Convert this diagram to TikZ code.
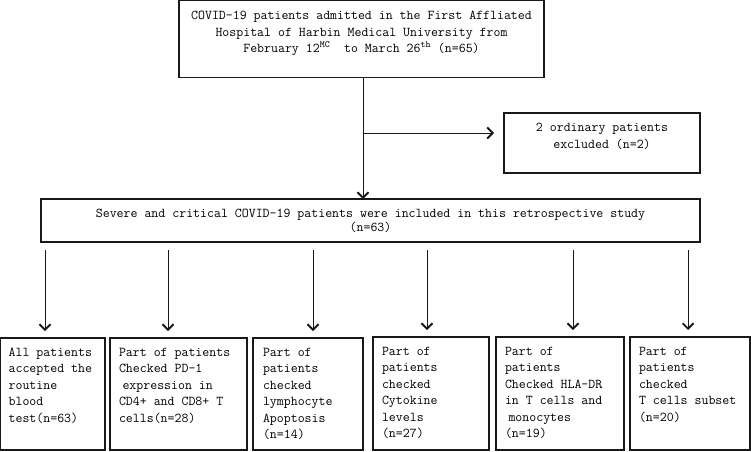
\documentclass[tikz,border=0pt]{standalone}
\usetikzlibrary{arrows.meta}
\begin{document}
\begin{tikzpicture}[x=1pt,y=-1pt,
  box/.style={draw=black!90, line width=1.2pt, inner sep=0pt, outer sep=0pt, anchor=north west},
  arr/.style={draw=black!90, line width=0.9pt, -{Straight Barb[length=5.5pt,width=11pt,line width=1.8pt]}},
  dn/.style={arr, shorten <=8pt, shorten >=7pt},
  font=\ttfamily\fontsize{13.5}{16.5}\selectfont]
\useasboundingbox (0,0) rectangle (751,451);
% top box
\node[box] (top) at (179,0.6) {\parbox[c][77pt][t]{365pt}{\centering\vspace*{7.5pt}\strut COVID-19 patients admitted in the First Affliated\\Hospital of Harbin Medical University from\\February 12\textsuperscript{MC}\ \ to March 26\textsuperscript{th} (n=65)}};
% excluded
\node[box] (exc) at (504,113) {\parbox[c][60pt][t]{196pt}{\centering\vspace*{7pt}\strut 2 ordinary patients\\excluded (n=2)}};
% middle
\node[box] (mid) at (41,199) {\parbox[c][43pt][t]{659pt}{\centering\fontsize{13.5}{14}\selectfont\vspace*{8.5pt}\strut Severe and critical COVID-19 patients were included in this retrospective study\\(n=63)}};
% bottom boxes
\node[box] (b1) at (0.6,338) {\parbox[c][112pt][t]{104.4pt}{\raggedright\leftskip=8pt\vspace*{6.5pt}\strut All patients\\accepted the\\routine\\blood\\test(n=63)}};
\node[box] (b2) at (110,338) {\parbox[c][112pt][t]{137pt}{\raggedright\leftskip=9pt\vspace*{6.5pt}\strut Part of patients\\Checked PD-1\\\hspace*{3.5pt}expression in\\CD4+ and CD8+ T\\cells(n=28)}};
\node[box] (b3) at (253,338) {\parbox[c][112pt][t]{110pt}{\raggedright\leftskip=10pt\vspace*{6.5pt}\strut Part of\\patients\\checked\\lymphocyte\\Apoptosis\\(n=14)}};
\node[box] (b4) at (373,337) {\parbox[c][113pt][t]{116pt}{\raggedright\leftskip=9pt\vspace*{6.5pt}\strut Part of\\patients\\checked\\Cytokine\\levels\\(n=27)}};
\node[box] (b5) at (496,337) {\parbox[c][113pt][t]{128pt}{\raggedright\leftskip=9pt\vspace*{6.5pt}\strut Part of\\patients\\Checked HLA-DR\\in T cells and\\\hspace*{3.5pt}monocytes\\(n=19)}};
\node[box] (b6) at (630,337) {\parbox[c][113pt][t]{120pt}{\raggedright\leftskip=9pt\vspace*{6.5pt}\strut Part of\\patients\\checked\\T cells subset\\(n=20)}};
% connectors
\coordinate (j) at (363,133);
\draw[draw=black!90, line width=0.9pt] (top.south -| j) -- (j);
\draw[arr] (j) -- (mid.north -| j);
\draw[arr] (j) -- ([xshift=-10pt]exc.west |- j);
\coordinate (a1) at (45,0);
\coordinate (a2) at (168,0);
\coordinate (a3) at (313,0);
\coordinate (a4) at (427,0);
\coordinate (a5) at (573,0);
\coordinate (a6) at (688,0);
\draw[dn] (mid.south -| a1) -- (b1.north -| a1);
\draw[dn] (mid.south -| a2) -- (b2.north -| a2);
\draw[dn] (mid.south -| a3) -- (b3.north -| a3);
\draw[dn] (mid.south -| a4) -- (b4.north -| a4);
\draw[dn] (mid.south -| a5) -- (b5.north -| a5);
\draw[dn] (mid.south -| a6) -- (b6.north -| a6);
\end{tikzpicture}
\end{document}
